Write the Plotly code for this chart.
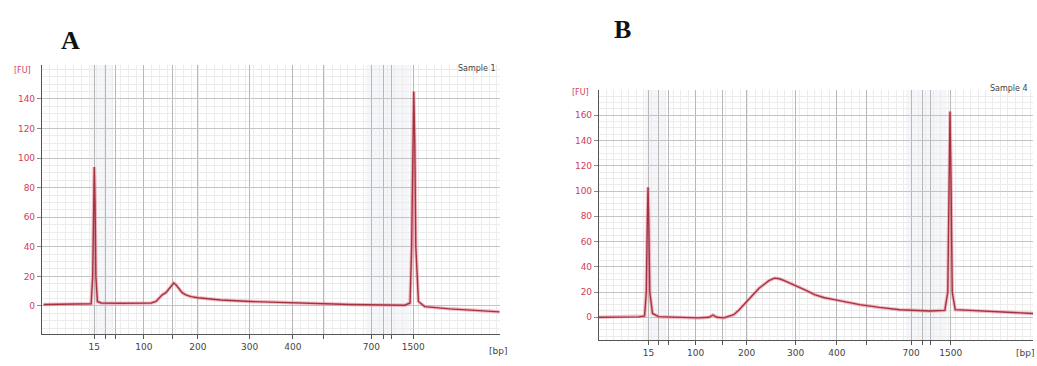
import plotly.graph_objects as go

# Ladder (DNA 1000) sizes and their migration times (s)
ladder_bp = [15, 25, 50, 100, 150, 200, 300, 400, 500, 700, 850, 1000, 1500]
ladder_time = [43.0, 45.1, 47.1, 52.5, 58.0, 62.8, 72.7, 81.0, 86.9, 96.0, 98.3, 99.9, 104.0]
shown_labels = [15, 100, 200, 300, 400, 700, 1500]

# Sample 1 (panel A)
time_A = [33.3, 38.0, 41.5, 42.4, 42.7, 42.85, 43.0, 43.15, 43.3, 43.6, 44.3, 48.0, 53.9, 54.8,
          55.4, 56.0, 56.7, 57.3, 57.8, 58.2, 58.7, 59.2, 59.8, 60.5, 61.5, 62.8, 67.2, 72.9,
          82.4, 92.0, 102.4, 103.4, 103.7, 103.9, 104.1, 104.3, 104.5, 105.0, 106.2, 111.0, 120.5]
fu_A = [1.0, 1.1, 1.2, 1.5, 20, 70, 94, 70, 20, 3.0, 2.0, 1.8, 2.0, 3.0,
        5.0, 7.5, 9.0, 11.5, 14.0, 15.5, 14.0, 11.5, 9.0, 7.5, 6.3, 5.5, 4.0, 3.0,
        2.0, 1.0, 0.5, 2.0, 40, 110, 145, 110, 40, 3.0, -0.5, -2.0, -4.0]

# Sample 4 (panel B)
time_B = [32.7, 37.0, 41.0, 42.2, 42.55, 42.75, 42.9, 43.05, 43.25, 43.8, 45.0, 53.1, 55.2, 56.0,
          56.8, 58.2, 59.2, 60.2, 61.2, 62.3, 63.3, 64.3, 65.3, 66.3, 67.3, 68.4, 69.4, 70.4,
          71.9, 73.4, 75.0, 76.5, 78.5, 80.5, 83.0, 85.6, 89.6, 93.7, 99.8, 102.8,
          103.4, 103.65, 103.85, 104.05, 104.3, 104.9, 110.0, 120.7]
fu_B = [0.0, 0.2, 0.3, 1.0, 20, 75, 103, 75, 20, 3.0, 0.5, -0.5, 0.0, 1.8,
        0.0, -0.5, 0.5, 2.0, 5.5, 10.0, 14.5, 19.0, 23.0, 26.0, 29.0, 31.0, 30.5, 29.0,
        26.5, 24.0, 21.0, 18.0, 15.5, 14.0, 12.0, 10.0, 7.8, 6.0, 5.0, 5.5,
        20, 110, 163, 110, 20, 6.0, 5.0, 3.0]

W, H = 1037, 366
RED = "#d0405c"
TXT = "#444444"

fig = go.Figure()

def add_sample(t, v, xa, ya):
    fig.add_trace(go.Scatter(x=t, y=v, mode="lines", xaxis=xa, yaxis=ya,
                             line=dict(color="rgba(235,130,150,0.55)", width=3.5),
                             hoverinfo="skip", showlegend=False))
    fig.add_trace(go.Scatter(x=t, y=v, mode="lines", xaxis=xa, yaxis=ya,
                             line=dict(color="#a3333f", width=1.4),
                             showlegend=False))

add_sample(time_A, fu_A, "x", "y")
add_sample(time_B, fu_B, "x2", "y2")

ticktext = [str(b) if b in shown_labels else "" for b in ladder_bp]

def xaxis(dom, anchor):
    return dict(domain=dom, anchor=anchor, range=[33.0, 120.6],
                tickmode="array", tickvals=ladder_time, ticktext=ticktext,
                ticks="outside", ticklen=4, tickcolor="#555", tickwidth=1,
                showline=True, linecolor="#555", linewidth=1.2,
                showgrid=True, gridcolor="#b8b8b8", gridwidth=1,
                minor=dict(tickmode="linear", tick0=33.0, dtick=1.5, showgrid=True,
                           gridcolor="#ececec", gridwidth=1, ticks=""),
                tickfont=dict(family="DejaVu Sans", size=9, color=TXT),
                zeroline=False, fixedrange=True)

def yaxis(dom, anchor, rng, top):
    return dict(domain=dom, anchor=anchor, range=rng,
                tickmode="array", tickvals=list(range(0, top + 1, 20)),
                ticks="outside", ticklen=4, tickcolor="#888", tickwidth=1,
                showline=True, linecolor="#555", linewidth=1.2,
                showgrid=True, gridcolor="#c4c4c4", gridwidth=1,
                minor=dict(tickmode="linear", tick0=0, dtick=5, showgrid=True,
                           gridcolor="#ececec", gridwidth=1, ticks=""),
                tickfont=dict(family="DejaVu Sans", size=9, color=RED),
                zeroline=False, fixedrange=True)

xa_dom = [42 / W, 500 / W]
ya_dom = [1 - 334 / H, 1 - 65 / H]
xb_dom = [599 / W, 1033 / W]
yb_dom = [1 - 340 / H, 1 - 90 / H]

fig.update_layout(
    width=W, height=H, margin=dict(l=0, r=0, t=0, b=0),
    paper_bgcolor="white", plot_bgcolor="white",
    xaxis=xaxis(xa_dom, "y"), yaxis=yaxis(ya_dom, "x", [-19, 163], 140),
    xaxis2=xaxis(xb_dom, "y2"), yaxis2=yaxis(yb_dom, "x2", [-18, 180], 160),
)

# light shaded bands near the marker regions
for xr, yr in [("x", "y"), ("x2", "y2")]:
    for a, b in [(42.3, 46.5), (95.0, 103.2)]:
        fig.add_shape(type="rect", xref=xr, yref=f"{yr} domain", x0=a, x1=b, y0=0, y1=1,
                      fillcolor="rgba(200,205,220,0.18)", line=dict(width=0), layer="below")

ann = []
def px(x, y, text, size, color, xanchor="center", family="DejaVu Sans", bold=False):
    ann.append(dict(xref="paper", yref="paper", x=x / W, y=1 - y / H, text=f"<b>{text}</b>" if bold else text,
                    showarrow=False, xanchor=xanchor, yanchor="middle",
                    font=dict(family=family, size=size, color=color)))

px(70, 40, "A", 26, "#111", family="Liberation Serif", bold=True)
px(622, 30, "B", 26, "#111", family="Liberation Serif", bold=True)
px(22, 70, "[FU]", 8, RED)
px(580, 92, "[FU]", 8, RED)
px(498, 68, "Sample 1", 8, TXT, xanchor="right")
px(1030, 89, "Sample 4", 8, TXT, xanchor="right")
px(487, 351, "[bp]", 9, TXT, xanchor="left")
px(1036, 353, "[bp]", 9, TXT, xanchor="right")
fig.update_layout(annotations=ann)

fig.write_html("out.html")
